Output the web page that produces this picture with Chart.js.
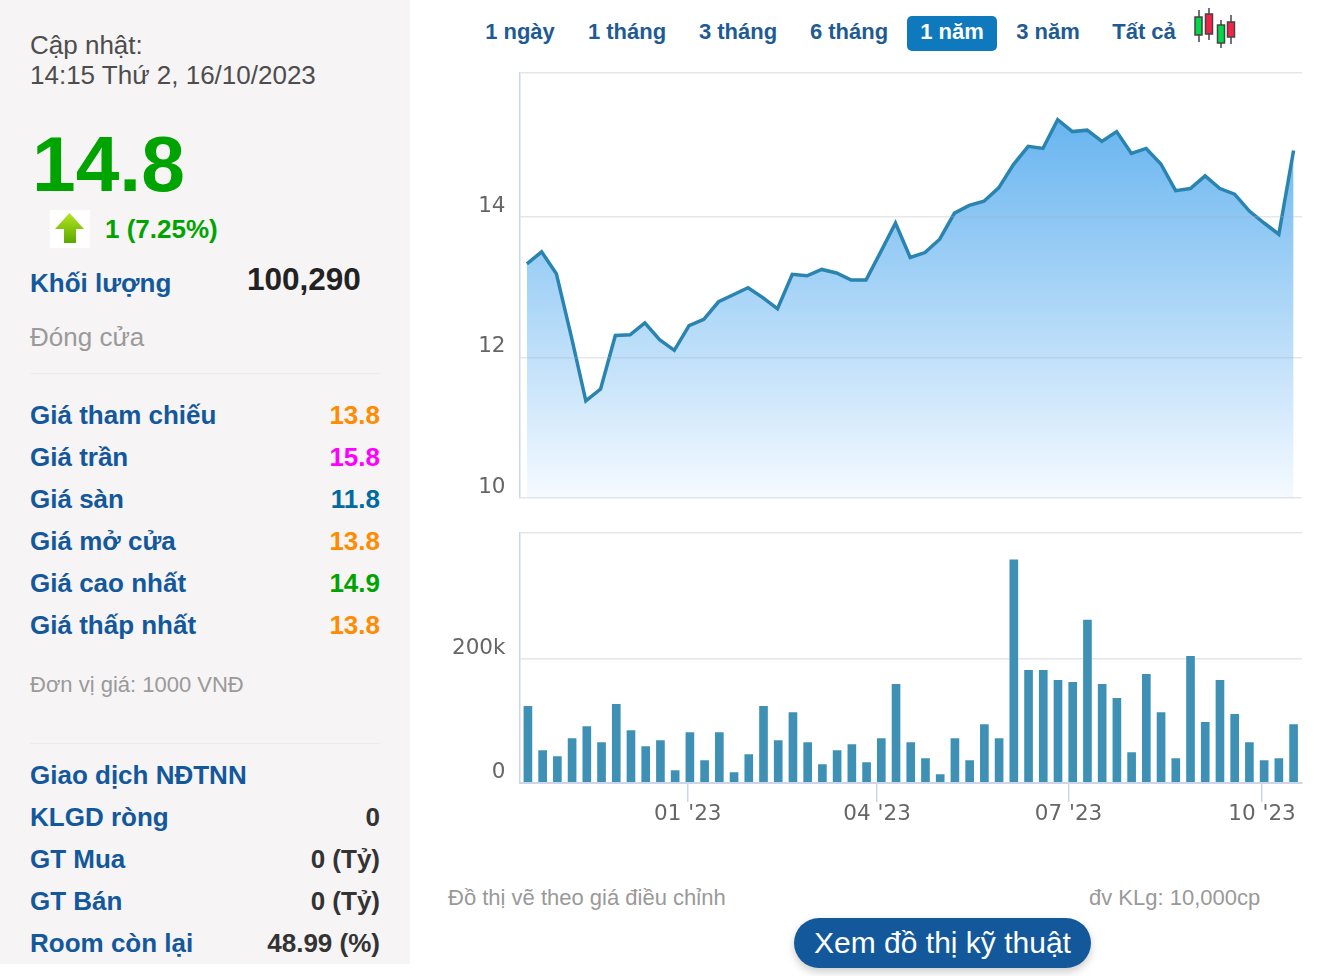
<!DOCTYPE html>
<html lang="vi">
<head>
<meta charset="utf-8">
<title>Đồ thị giá</title>
<script src="https://cdn.jsdelivr.net/npm/chart.js@4/dist/chart.umd.min.js"></script>
<style>
  html, body { margin: 0; padding: 0; background: #fff; }
  body { width: 1320px; height: 976px; position: relative; overflow: hidden; font-family: "Liberation Sans", Arial, sans-serif; }
  #panel { position: absolute; left: 0; top: 0; width: 410px; height: 964px; background: #f6f4f5; }
  .t { position: absolute; white-space: nowrap; line-height: 40px; height: 40px; }
  .lbl { left: 30px; font-size: 26px; font-weight: bold; color: #14589c; }
  .val { right: 30px; font-size: 26px; font-weight: bold; }
  .rule { position: absolute; left: 30px; width: 350px; height: 1px; background: #ececec; }
  .tab { position: absolute; top: 12px; height: 40px; line-height: 40px; font-size: 22px; font-weight: bold; color: #1e5b94; transform: translateX(-50%); white-space: nowrap; }
  #tabOn { position: absolute; left: 907px; top: 16px; width: 90px; height: 35px; background: #0e79bd; border-radius: 5px; }
  canvas { position: absolute; }
  #btn { position: absolute; left: 794px; top: 918px; width: 297px; height: 50px; line-height: 50px; border-radius: 25px; background: #14589c; color: #fff; font-size: 30px; text-align: center; box-shadow: 0 4px 8px rgba(0,0,0,.2); white-space: nowrap; }
</style>
</head>
<body>
<div id="panel">
  <div class="t" style="left:30px;top:25px;font-size:26px;color:#4d4d4d">Cập nhật:</div>
  <div class="t" style="left:30px;top:55px;font-size:26px;color:#4d4d4d">14:15 Thứ 2, 16/10/2023</div>
  <div class="t" style="left:32px;top:124px;height:80px;line-height:80px;font-size:78.5px;font-weight:bold;color:#00a400">14.8</div>
  <svg style="position:absolute;left:50px;top:210px" width="40" height="38">
    <defs><linearGradient id="arrowFill" x1="0" y1="0" x2="0" y2="1"><stop offset="0" stop-color="#b4e61e"/><stop offset="1" stop-color="#5aa800"/></linearGradient></defs>
    <rect width="40" height="38" fill="#fff"/>
    <path d="M19.5 3 L34 19 L26 19 L26 33 L14 33 L14 19 L5 19 Z" fill="url(#arrowFill)"/>
  </svg>
  <div class="t" style="left:105px;top:209px;font-size:26px;font-weight:bold;color:#00a400">1 (7.25%)</div>
  <div class="t lbl" style="top:263px">Khối lượng</div>
  <div class="t" style="left:247px;top:259px;font-size:31.5px;font-weight:bold;color:#222">100,290</div>
  <div class="t" style="left:30px;top:317px;font-size:26px;color:#9a9a9a">Đóng cửa</div>
  <div class="rule" style="top:373px"></div>
  <div class="t lbl" style="top:395px">Giá tham chiếu</div><div class="t val" style="top:395px;color:#ff8c00">13.8</div>
  <div class="t lbl" style="top:437px">Giá trần</div><div class="t val" style="top:437px;color:#ff00ff">15.8</div>
  <div class="t lbl" style="top:479px">Giá sàn</div><div class="t val" style="top:479px;color:#006b9e">11.8</div>
  <div class="t lbl" style="top:521px">Giá mở cửa</div><div class="t val" style="top:521px;color:#ff8c00">13.8</div>
  <div class="t lbl" style="top:563px">Giá cao nhất</div><div class="t val" style="top:563px;color:#00a400">14.9</div>
  <div class="t lbl" style="top:605px">Giá thấp nhất</div><div class="t val" style="top:605px;color:#ff8c00">13.8</div>
  <div class="t" style="left:30px;top:665px;font-size:22px;color:#9a9a9a">Đơn vị giá: 1000 VNĐ</div>
  <div class="rule" style="top:743px"></div>
  <div class="t lbl" style="top:755px">Giao dịch NĐTNN</div>
  <div class="t lbl" style="top:797px">KLGD ròng</div><div class="t val" style="top:797px;color:#333">0</div>
  <div class="t lbl" style="top:839px">GT Mua</div><div class="t val" style="top:839px;color:#333">0 (Tỷ)</div>
  <div class="t lbl" style="top:881px">GT Bán</div><div class="t val" style="top:881px;color:#333">0 (Tỷ)</div>
  <div class="t lbl" style="top:923px">Room còn lại</div><div class="t val" style="top:923px;color:#333">48.99 (%)</div>
</div>

<div id="tabOn"></div>
<div class="tab" style="left:520px">1 ngày</div>
<div class="tab" style="left:627px">1 tháng</div>
<div class="tab" style="left:738px">3 tháng</div>
<div class="tab" style="left:849px">6 tháng</div>
<div class="tab" style="left:952px;color:#fff">1 năm</div>
<div class="tab" style="left:1048px">3 năm</div>
<div class="tab" style="left:1144px">Tất cả</div>
<svg style="position:absolute;left:1190px;top:5px" width="50" height="45" stroke="#444" stroke-width="1.5">
  <line x1="9" y1="5" x2="9" y2="37"/><rect x="5" y="12" width="7" height="18" fill="#00d84a"/>
  <line x1="19" y1="3" x2="19" y2="35"/><rect x="15.5" y="9" width="7" height="20" fill="#f5234a"/>
  <line x1="31" y1="15" x2="31" y2="43"/><rect x="27.5" y="20" width="7" height="18" fill="#00d84a"/>
  <line x1="41" y1="10" x2="41" y2="39"/><rect x="37.5" y="17" width="7" height="15" fill="#f5234a"/>
</svg>

<canvas id="priceChart" width="880" height="445" style="left:440px;top:60px"></canvas>
<canvas id="volumeChart" width="880" height="310" style="left:440px;top:520px"></canvas>

<div class="t" style="left:448px;top:878px;font-size:22px;color:#999">Đồ thị vẽ theo giá điều chỉnh</div>
<div class="t" style="left:1089px;top:878px;font-size:22px;color:#999">đv KLg: 10,000cp</div>
<div id="btn">Xem đồ thị kỹ thuật</div>

<script>
const tradeDates = [
  "2022-10-17","2022-10-24","2022-10-31","2022-11-07","2022-11-14","2022-11-21","2022-11-28",
  "2022-12-05","2022-12-12","2022-12-19","2022-12-26","2023-01-02","2023-01-09","2023-01-16",
  "2023-01-23","2023-01-30","2023-02-06","2023-02-13","2023-02-20","2023-02-27","2023-03-06",
  "2023-03-13","2023-03-20","2023-03-27","2023-04-03","2023-04-10","2023-04-17","2023-04-24",
  "2023-05-01","2023-05-08","2023-05-15","2023-05-22","2023-05-29","2023-06-05","2023-06-12",
  "2023-06-19","2023-06-26","2023-07-03","2023-07-10","2023-07-17","2023-07-24","2023-07-31",
  "2023-08-07","2023-08-14","2023-08-21","2023-08-28","2023-09-04","2023-09-11","2023-09-18",
  "2023-09-25","2023-10-02","2023-10-09","2023-10-16"
];
const closePrices = [
  13.33,13.50,13.19,12.31,11.38,11.55,12.31,12.32,12.49,12.25,12.10,12.45,12.54,12.79,12.89,12.99,
  12.85,12.69,13.18,13.16,13.25,13.20,13.10,13.10,13.50,13.91,13.42,13.49,13.68,14.05,14.16,14.22,
  14.41,14.74,15.00,14.97,15.38,15.21,15.23,15.07,15.21,14.90,14.97,14.75,14.37,14.40,14.58,14.40,
  14.32,14.08,13.91,13.75,14.94
];
const volumes = [
  123400,52300,42600,71700,91100,65200,126700,84600,58800,68500,19900,81400,36100,81400,16700,45800,
  123400,68500,113700,65200,29600,52300,62000,32900,71700,159000,65200,39400,13500,71700,36100,94300,
  71700,359600,181700,181700,165500,162300,262500,159000,136400,49000,175200,113700,39400,204300,
  97600,165500,110500,65200,36100,39400,94300
];
const xTickDates = ["2023-01-01","2023-04-01","2023-07-01","2023-10-01"];
const xTickLabels = ["01 '23","04 '23","07 '23","10 '23"];
const priceTicks = [10,12,14,16.05];
const priceTickLabels = ["10","12","14",""];
const volumeTicks = [0,200000,403000];
const volumeTickLabels = ["0","200k",""];

const dayOf = s => (Date.parse(s) - Date.UTC(2023,0,1)) / 86400000;
const axisFont = { family: "'DejaVu Sans'", size: 21.5 };
const gridColor = "rgba(170,175,190,0.3)";
const axisColor = "#ccd6eb";

function fixedTicks(values, labels) {
  return {
    afterBuildTicks: s => { s.ticks = values.map(v => ({ value: v })); },
    afterTickToLabelConversion: s => { s.ticks.forEach((t, i) => { t.label = labels[i]; }); }
  };
}
// the plot box is placed by hand, so labels must not push it in
function noPadding(s) {
  s.paddingTop = s.paddingBottom = s.paddingLeft = s.paddingRight = 0;
}

Chart.defaults.animation = false;

new Chart(document.getElementById("priceChart"), {
  type: "line",
  data: {
    datasets: [{
      data: tradeDates.map((d, i) => ({ x: dayOf(d), y: closePrices[i] })),
      borderColor: "#2a84b0",
      borderWidth: 3.5,
      pointRadius: 0,
      tension: 0,
      fill: "start",
      backgroundColor: ctx => {
        const a = ctx.chart.chartArea;
        if (!a) return "#a0d0f5";
        const g = ctx.chart.ctx.createLinearGradient(0, a.top, 0, a.bottom);
        g.addColorStop(0, "rgb(86,172,238)");
        g.addColorStop(1, "rgb(245,250,255)");
        return g;
      }
    }]
  },
  options: {
    responsive: false,
    layout: { padding: { top: 12.5, bottom: 7, right: 18 } },
    plugins: { legend: { display: false }, tooltip: { enabled: false } },
    scales: {
      x: { type: "linear", min: -79.5, max: 292, display: false },
      y: {
        min: 10, max: 16.05,
        ...fixedTicks(priceTicks, priceTickLabels),
        afterFit: s => { s.width = 79.5; noPadding(s); },
        grid: { color: gridColor, lineWidth: 1.5, drawTicks: false, z: 1 },
        border: { color: axisColor, width: 1.5, z: 1 },
        ticks: { font: axisFont, color: "#666", padding: 14, labelOffset: -10.5 }
      }
    }
  }
});

new Chart(document.getElementById("volumeChart"), {
  type: "bar",
  data: {
    datasets: [{
      data: tradeDates.map((d, i) => ({ x: dayOf(d), y: volumes[i] })),
      backgroundColor: "#3e91b5",
      barThickness: 8
    }]
  },
  options: {
    responsive: false,
    layout: { padding: { top: 13, bottom: 0, right: 18 } },
    plugins: { legend: { display: false }, tooltip: { enabled: false } },
    scales: {
      x: {
        type: "linear", min: -80, max: 292, offset: false,
        ...fixedTicks(xTickDates.map(dayOf), xTickLabels),
        afterFit: s => { s.height = 47; noPadding(s); },
        grid: { offset: false, drawOnChartArea: false, tickColor: axisColor, tickLength: 19, lineWidth: 1.5 },
        border: { color: axisColor, width: 2, z: 1 },
        ticks: { font: axisFont, color: "#666", padding: 0, autoSkip: false, maxRotation: 0 }
      },
      y: {
        min: 0, max: 403000,
        ...fixedTicks(volumeTicks, volumeTickLabels),
        afterFit: s => { s.width = 79.5; noPadding(s); },
        grid: { color: c => c.tick.value === 0 ? "transparent" : "#e6e6ea", lineWidth: 1.5, drawTicks: false },
        border: { color: axisColor, width: 1.5 },
        ticks: { font: axisFont, color: "#666", padding: 14, labelOffset: -11 }
      }
    }
  }
});
</script>
</body>
</html>
